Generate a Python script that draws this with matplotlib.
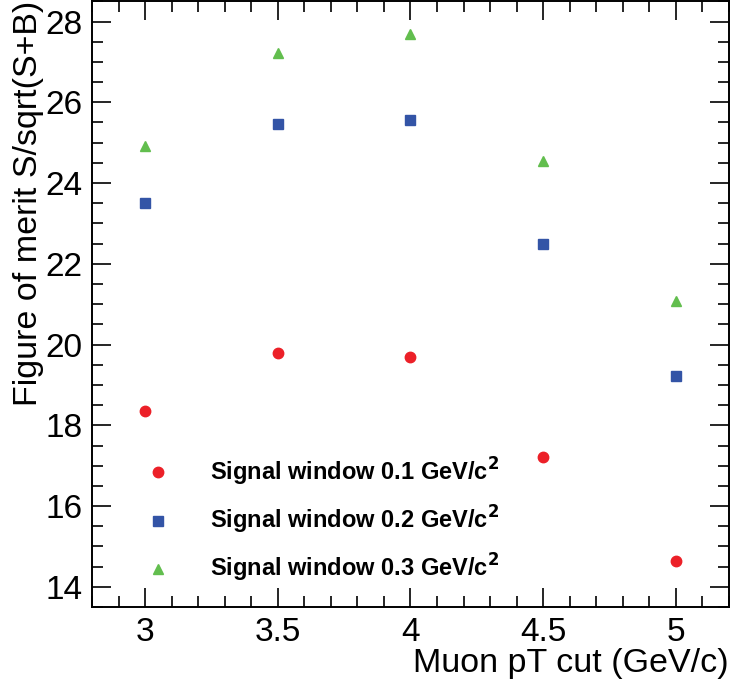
import matplotlib
matplotlib.use('Agg')
import matplotlib.pyplot as plt
from matplotlib.ticker import MultipleLocator

plt.rcParams['font.family'] = ['Liberation Sans', 'DejaVu Sans']

# 数据
pt_cut = [3.0, 3.5, 4.0, 4.5, 5.0]
fom_01 = [18.35, 19.78, 19.68, 17.21, 14.64]
fom_02 = [23.51, 25.46, 25.56, 22.49, 19.21]
fom_03 = [24.91, 27.23, 27.70, 24.54, 21.09]
labels = [r'Signal window 0.1 GeV/c$^\mathbf{2}$',
          r'Signal window 0.2 GeV/c$^\mathbf{2}$',
          r'Signal window 0.3 GeV/c$^\mathbf{2}$']

fig = plt.figure(figsize=(7.3, 6.88), dpi=100)
ax = fig.add_axes([0.126, 0.1177, 0.8726, 0.8815])

ax.plot(pt_cut, fom_01, 'o', color='#ec2028', markersize=7.5, linestyle='none', label=labels[0])
ax.plot(pt_cut, fom_02, 's', color='#3354a6', markersize=7, linestyle='none', label=labels[1])
ax.plot(pt_cut, fom_03, '^', color='#62be4e', markersize=7.5, linestyle='none', label=labels[2])

ax.set_xlim(2.8, 5.2)
ax.set_ylim(13.5, 28.52)
ax.xaxis.set_major_locator(MultipleLocator(0.5))
ax.xaxis.set_minor_locator(MultipleLocator(0.1))
ax.yaxis.set_major_locator(MultipleLocator(2))
ax.yaxis.set_minor_locator(MultipleLocator(0.5))
ax.xaxis.set_major_formatter(matplotlib.ticker.FuncFormatter(lambda v, p: f'{v:g}'))
ax.tick_params(which='both', direction='in', top=True, right=True, width=1.2, labelsize=24)
ax.tick_params(which='major', length=14, pad=7)
ax.tick_params(which='minor', length=8)
for s in ax.spines.values():
    s.set_linewidth(1.4)

ax.set_xlabel('Muon pT cut (GeV/c)', fontsize=24.5, loc='right', labelpad=0)
ax.set_ylabel('Figure of merit S/sqrt(S+B)', fontsize=24.5, loc='top', labelpad=0.5)

leg = ax.legend(loc='lower left', bbox_to_anchor=(0.05, 0.01), frameon=False,
                prop={'weight': 'bold', 'size': 17}, handletextpad=1.45,
                labelspacing=0.68, borderaxespad=0.3, handlelength=1.5)

plt.savefig('out.png', dpi=100)
plt.close()
